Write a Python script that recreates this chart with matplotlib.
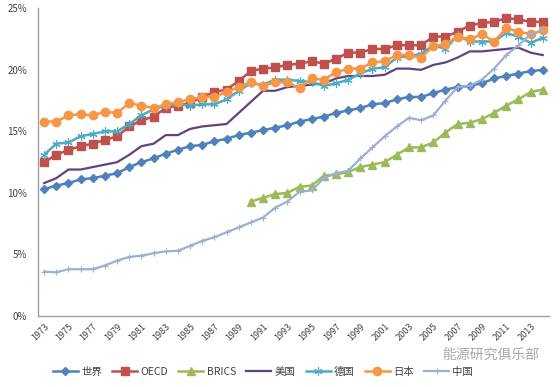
import matplotlib
matplotlib.use("Agg")
import matplotlib.pyplot as plt
from matplotlib.ticker import FuncFormatter

plt.rcParams['font.family'] = ['Noto Sans CJK SC', 'DejaVu Sans']

years = list(range(1973, 2015))

world = [10.3, 10.6, 10.8, 11.1, 11.2, 11.4, 11.6, 12.1, 12.5, 12.8,
         13.2, 13.5, 13.8, 13.9, 14.2, 14.4, 14.7, 14.9, 15.1, 15.3,
         15.5, 15.8, 16.0, 16.2, 16.5, 16.7, 16.9, 17.2, 17.3, 17.6,
         17.8, 17.8, 18.1, 18.4, 18.6, 18.7, 18.9, 19.3, 19.5, 19.7,
         19.9, 20.0]
oecd = [12.5, 13.1, 13.5, 13.8, 14.0, 14.3, 14.6, 15.4, 15.9, 16.2,
        16.9, 17.1, 17.3, 17.8, 18.2, 18.4, 19.1, 19.9, 20.1, 20.2,
        20.4, 20.5, 20.7, 20.5, 20.9, 21.4, 21.4, 21.7, 21.7, 22.0,
        22.0, 22.0, 22.7, 22.7, 23.1, 23.6, 23.8, 23.9, 24.2, 24.1,
        23.9, 23.9]
brics = [None] * 17 + [9.3, 9.6, 9.9, 10.0, 10.5, 10.6, 11.4, 11.5, 11.7,
                       12.1, 12.3, 12.5, 13.1, 13.7, 13.7, 14.1, 14.9, 15.6,
                       15.7, 16.0, 16.5, 17.1, 17.6, 18.2, 18.4]
usa = [10.8, 11.2, 11.9, 11.9, 12.1, 12.3, 12.5, 13.1, 13.8, 14.0,
       14.7, 14.7, 15.2, 15.4, 15.5, 15.6, 16.5, 17.4, 18.3, 18.3,
       18.6, 18.7, 18.8, 18.9, 19.3, 19.5, 19.5, 19.5, 19.6, 20.1,
       20.1, 20.0, 20.4, 20.6, 21.0, 21.5, 21.5, 21.6, 21.7, 21.8,
       21.4, 21.2]
germany = [13.1, 14.0, 14.1, 14.6, 14.8, 15.0, 15.0, 15.6, 16.3, 16.8,
           17.1, 17.2, 17.1, 17.2, 17.2, 17.6, 18.3, 18.9, 18.8, 19.2,
           19.2, 19.1, 19.0, 18.7, 18.9, 19.2, 19.7, 20.1, 20.2, 21.0,
           21.1, 21.3, 22.0, 21.7, 22.8, 22.3, 22.3, 22.3, 23.0, 22.7,
           22.2, 22.6]
japan = [15.8, 15.8, 16.3, 16.4, 16.3, 16.6, 16.5, 17.3, 17.1, 16.9,
         17.2, 17.4, 17.6, 17.8, 17.8, 18.2, 18.6, 19.0, 18.7, 19.0,
         19.0, 18.5, 19.3, 19.2, 19.8, 20.1, 20.1, 20.6, 20.7, 21.2,
         21.2, 21.0, 21.9, 22.1, 22.7, 22.5, 22.9, 22.3, 23.4, 23.1,
         22.9, 23.2]
china = [3.6, 3.55, 3.8, 3.8, 3.8, 4.1, 4.5, 4.8, 4.9, 5.1,
         5.25, 5.3, 5.7, 6.1, 6.4, 6.8, 7.2, 7.6, 8.0, 8.8,
         9.3, 10.1, 10.2, 11.2, 11.6, 11.8, 12.8, 13.7, 14.6, 15.4,
         16.1, 15.9, 16.3, 17.5, 18.6, 18.7, 19.2, 20.1, 21.2, 22.0,
         22.9, 23.2]

labels = ['世界', 'OECD', 'BRICS', '美国', '德国', '日本', '中国']

fig = plt.figure(figsize=(5.6, 3.87), dpi=100)
ax = fig.add_axes([0.068, 0.1835, 0.912, 0.795])

ax.plot(years, world, color='#4F81BD', marker='D', markersize=4.5, lw=1.8, label=labels[0])
ax.plot(years, oecd, color='#C0504D', marker='s', markersize=6, lw=1.8, label=labels[1])
brics_x = [y for y, v in zip(years, brics) if v is not None]
brics_y = [v for v in brics if v is not None]
ax.plot(brics_x, brics_y, color='#9BBB59', marker='^', markersize=6, lw=1.8, label=labels[2])
ax.plot(years, usa, color='#5E4483', lw=1.6, label=labels[3])
ax.plot(years, germany, color='#4BACC6', marker=(6, 2, 0), markersize=6, mew=0.8, lw=1.8, label=labels[4])
ax.plot(years, japan, color='#F79646', marker='o', markersize=6, lw=1.8, label=labels[5])
ax.plot(years, china, color='#9BB0D4', marker='+', markersize=5, mew=0.8, lw=1.6, label=labels[6])

ax.set_xlim(1972.5, 2014.5)
ax.set_ylim(0, 25)
ax.set_yticks([0, 5, 10, 15, 20, 25])
ax.yaxis.set_major_formatter(FuncFormatter(lambda v, p: '%d%%' % v))
ax.set_xticks(years[::2])
ax.set_xticklabels([str(y) for y in years[::2]], rotation=45, ha='right',
                   rotation_mode='anchor')

for s in ['top', 'right']:
    ax.spines[s].set_visible(False)
for s in ['left', 'bottom']:
    ax.spines[s].set_color('#A0A0A0')
    ax.spines[s].set_linewidth(1.0)
ax.tick_params(axis='y', length=0, labelsize=7, colors='#404040', pad=8)
ax.tick_params(axis='x', length=0, labelsize=6.5, colors='#404040', pad=4)

fig.legend(loc='center', bbox_to_anchor=(263 / 560, 0.039), ncol=7, frameon=False,
           fontsize=7.5, handlelength=2.4, columnspacing=1.0, handletextpad=0.3,
           labelcolor='#404040')

fig.text(0.79, 0.083, '能源研究俱乐部', fontsize=10, color='#A8A8A8', ha='left', va='center')

fig.savefig('out.png', dpi=100)
